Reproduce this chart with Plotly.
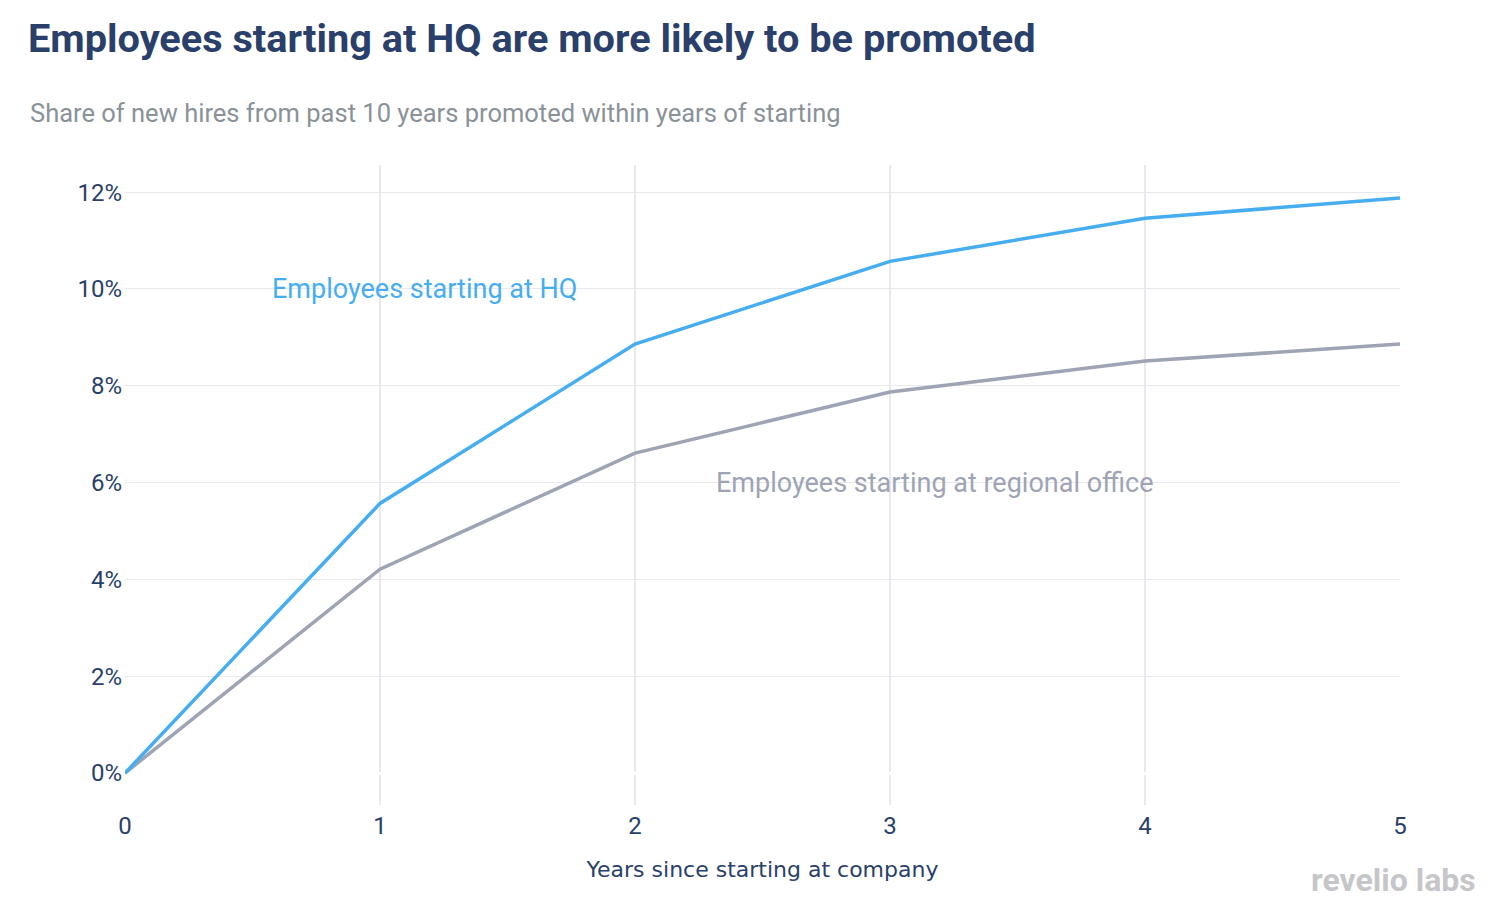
import plotly.graph_objects as go

years = [0, 1, 2, 3, 4, 5]
hq_share = [0.0, 0.0557, 0.0886, 0.1057, 0.1146, 0.1188]
regional_share = [0.0, 0.0421, 0.0661, 0.0787, 0.0851, 0.0886]
y_ticks = [0, 0.02, 0.04, 0.06, 0.08, 0.10, 0.12]
y_tick_labels = ["0%", "2%", "4%", "6%", "8%", "10%", "12%"]

HQ_COLOR = "#46aef0"
REG_COLOR = "#9ea4b4"
NAVY = "#2a3f69"

# page body has an 8px margin; plot area in figure pixels
ML, MT, PW, PH = 117, 157, 1275, 640
W, H = 1498, 918

fig = go.Figure()
fig.add_trace(go.Scatter(x=years, y=regional_share, mode="lines",
                         line=dict(color=REG_COLOR, width=3.5),
                         name="Employees starting at regional office", showlegend=False))
fig.add_trace(go.Scatter(x=years, y=hq_share, mode="lines",
                         line=dict(color=HQ_COLOR, width=3.5),
                         name="Employees starting at HQ", showlegend=False))

fig.add_annotation(x=0.57, y=0.10, xref="x", yref="y", text="Employees starting at HQ",
                   showarrow=False, xanchor="left", yanchor="middle",
                   font=dict(family="Roboto", size=27, color=HQ_COLOR))
fig.add_annotation(x=2.31, y=0.06, xref="x", yref="y", text="Employees starting at regional office",
                   showarrow=False, xanchor="left", yanchor="middle",
                   font=dict(family="Roboto", size=27, color=REG_COLOR))

# subtitle
fig.add_annotation(x=(20 - ML) / PW, y=1 + (MT - 105) / PH, xref="paper", yref="paper",
                   text="Share of new hires from past 10 years promoted within years of starting",
                   showarrow=False, xanchor="left", yanchor="middle",
                   font=dict(family="Roboto", size=25.5, color="#8a9299"))
# logo
fig.add_annotation(x=1 + (1470 - (ML + PW)) / PW, y=-(872 - (MT + PH)) / PH,
                   xref="paper", yref="paper", text="<b>revelio labs</b>",
                   showarrow=False, xanchor="right", yanchor="middle",
                   font=dict(family="Roboto", size=32, color="#c6c6ca"))

fig.update_layout(
    width=W, height=H,
    paper_bgcolor="white", plot_bgcolor="white",
    margin=dict(l=ML, r=W - ML - PW, t=MT, b=H - MT - PH),
    title=dict(text="<b>Employees starting at HQ are more likely to be promoted</b>",
               x=20 / W, xanchor="left", xref="container", y=1 - 30 / H, yanchor="middle",
               yref="container",
               font=dict(family="Roboto", size=39.7, color=NAVY)),
    font=dict(family="Roboto", color=NAVY),
    xaxis=dict(range=[0, 5], tickvals=years, showgrid=True, gridcolor="#e8e8ee", gridwidth=2,
               zeroline=False, showline=False, ticks="",
               tickfont=dict(family="Roboto", size=24, color=NAVY), ticklabelstandoff=4,
               title=dict(text="Years since starting at company",
                          font=dict(family="DejaVu Sans", size=22, color=NAVY), standoff=22)),
    yaxis=dict(range=[-0.0066, 0.1256], tickvals=y_ticks, ticktext=y_tick_labels,
               showgrid=True, gridcolor="#e8e8ee", gridwidth=1, zeroline=True,
               zerolinecolor="white", zerolinewidth=3, showline=False, ticks="",
               tickfont=dict(family="Roboto", size=24, color=NAVY), ticklabelstandoff=2),
)

fig.write_html("out.html")
